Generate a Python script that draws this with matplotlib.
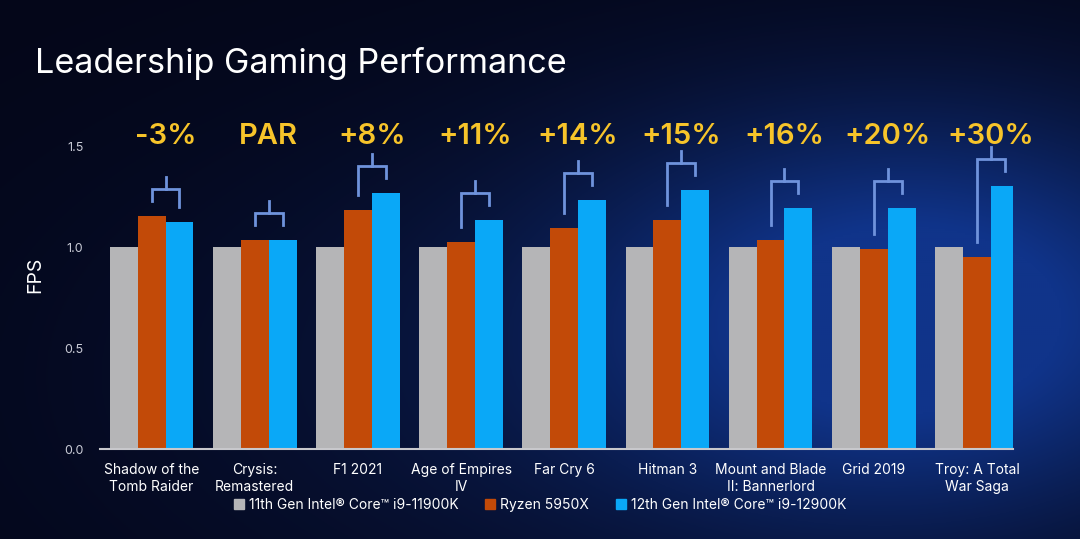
import numpy as np
import matplotlib
matplotlib.use('Agg')
import matplotlib.pyplot as plt
from matplotlib.patches import Patch

## chart data (relative FPS, 11th Gen = 1.0)
games = ['Shadow of the\nTomb Raider', 'Crysis:\nRemastered', 'F1 2021', 'Age of Empires\nIV',
         'Far Cry 6', 'Hitman 3', 'Mount and Blade\nII: Bannerlord', 'Grid 2019', 'Troy: A Total\nWar Saga']
intel_11 = [1.0, 1.0, 1.0, 1.0, 1.0, 1.0, 1.0, 1.0, 1.0]
ryzen = [1.153, 1.035, 1.183, 1.025, 1.094, 1.134, 1.035, 0.99, 0.95]
intel_12 = [1.124, 1.035, 1.267, 1.134, 1.233, 1.282, 1.193, 1.193, 1.30]
deltas = ['-3%', 'PAR', '+8%', '+11%', '+14%', '+15%', '+16%', '+20%', '+30%']
series_names = ['11th Gen Intel® Core™ i9-11900K', 'Ryzen 5950X', '12th Gen Intel® Core™ i9-12900K']

plt.rcParams['font.family'] = ['Inter', 'DejaVu Sans']

c_gray = '#b5b5b7'
c_orange = '#c24a08'
c_blue = '#0aa8f7'
c_bracket = '#6f93dc'
c_yellow = '#f7c42a'

fig = plt.figure(figsize=(10.8, 5.39), dpi=100)

## background: dark navy with a blue glow to the right
bg = fig.add_axes([0, 0, 1, 1], zorder=-10)
gx, gy = np.meshgrid(np.linspace(0, 1, 540), np.linspace(0, 1, 270))
glow = np.exp(-(((gx - 0.86) ** 2) / 0.09 + ((gy - 0.42) ** 2) / 0.14))
glow = glow + 0.3 * np.exp(-(((gx - 0.6) ** 2) / 0.25 + ((gy - 0.3) ** 2) / 0.25))
glow = np.clip(glow, 0, 1)
dark = np.array([4, 6, 24]) / 255
bright = np.array([16, 52, 138]) / 255
img = dark + glow[..., None] * (bright - dark)
bg.imshow(img, extent=[0, 1, 0, 1], aspect='auto', origin='lower')
bg.set_axis_off()

ax = fig.add_axes([100 / 1080, 90 / 539, 913 / 1080, 349 / 539])
ax.set_facecolor('none')

x = np.arange(len(games))
w = 0.27
ax.bar(x - w, intel_11, w, color=c_gray, label=series_names[0])
ax.bar(x, ryzen, w, color=c_orange, label=series_names[1])
ax.bar(x + w, intel_12, w, color=c_blue, label=series_names[2])

## brackets between Ryzen and 12th Gen bars + the delta labels
gap = 0.075
for i in range(len(games)):
    xl, xr = x[i], x[i] + w
    yl = ryzen[i] + gap
    yr = intel_12[i] + gap
    top = max(yl, yr) + 0.06
    xm = (xl + xr) / 2
    ax.plot([xl, xl, xr, xr], [yl, top, top, yr], color=c_bracket, lw=2, solid_joinstyle='miter')
    ax.plot([xm, xm], [top, top + 0.06], color=c_bracket, lw=2)
    ax.text(xm, 1.545, deltas[i], color=c_yellow, fontsize=21, fontweight='semibold',
            ha='center', va='center')

ax.set_xlim(-0.5, 8.35)
ax.set_ylim(0, 1.728)
ax.set_yticks([0.0, 0.5, 1.0, 1.5])
ax.set_yticklabels(['0.0', '0.5', '1.0', '1.5'])
ax.set_xticks(x)
ax.set_xticklabels(games, linespacing=1.25)
ax.tick_params(axis='y', length=0, pad=12, labelsize=9, labelcolor='#c9cbd6')
ax.tick_params(axis='x', length=0, pad=10, labelsize=10, labelcolor='white')
for s in ['top', 'right', 'left']:
    ax.spines[s].set_visible(False)
ax.spines['bottom'].set_color('#c8c8cc')
ax.spines['bottom'].set_linewidth(1.5)
ax.set_ylabel('FPS', color='white', fontsize=14, labelpad=14)

fig.text(35 / 1080, 1 - 64 / 539, 'Leadership Gaming Performance', color='white',
         fontsize=24.6, va='center', ha='left')

handles = [Patch(color=c_gray), Patch(color=c_orange), Patch(color=c_blue)]
leg = fig.legend(handles, series_names, loc='center', bbox_to_anchor=(0.5, 1 - 505 / 539), ncol=3,
                 frameon=False, fontsize=10, handlelength=0.75, handleheight=0.75,
                 handletextpad=0.35, columnspacing=1.9)
for t in leg.get_texts():
    t.set_color('white')

fig.savefig('out.png', dpi=100)
